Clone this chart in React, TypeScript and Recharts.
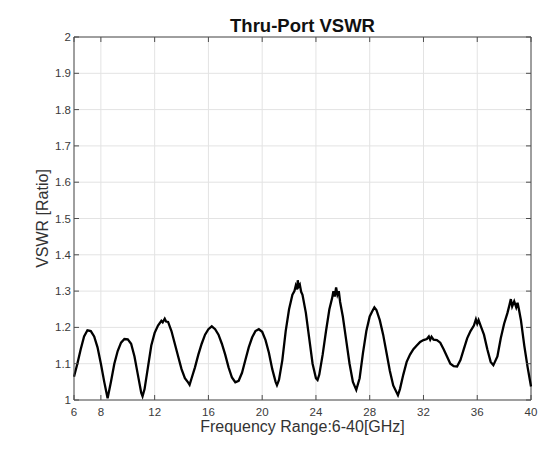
import { LineChart, Line, XAxis, YAxis, CartesianGrid, ReferenceLine } from "recharts"

// frequency in GHz, VSWR
const freq = [
  6.0, 6.25, 6.5, 6.75, 7.0, 7.25, 7.5, 7.75, 8.0, 8.25, 8.5, 8.75, 9.0, 9.25, 9.5, 9.75,
  10.0, 10.25, 10.5, 10.75, 11.0, 11.1, 11.25, 11.5, 11.75, 12.0, 12.25, 12.5, 12.6, 12.75, 12.85, 13.0,
  13.25, 13.5, 13.75, 14.0, 14.25, 14.5, 14.6, 14.7, 14.75, 15.0, 15.25, 15.5, 15.75, 16.0, 16.25, 16.5,
  16.75, 17.0, 17.25, 17.5, 17.75, 18.0, 18.25, 18.5, 18.75, 19.0, 19.25, 19.5, 19.75, 20.0, 20.25, 20.5,
  20.75, 21.0, 21.1, 21.25, 21.5, 21.75, 22.0, 22.25, 22.4, 22.5, 22.6, 22.65, 22.7, 22.8, 22.9, 23.0,
  23.25, 23.5, 23.75, 24.0, 24.12, 24.25, 24.5, 24.75, 25.0, 25.2, 25.3, 25.4, 25.5, 25.6, 25.7, 25.8,
  26.0, 26.25, 26.5, 26.75, 27.0, 27.25, 27.5, 27.75, 28.0, 28.2, 28.35, 28.5, 28.75, 29.0, 29.25, 29.5,
  29.75, 30.1, 30.25, 30.5, 30.75, 31.0, 31.25, 31.5, 31.75, 32.0, 32.25, 32.4, 32.5, 32.6, 32.75, 33.0,
  33.25, 33.5, 33.75, 34.0, 34.25, 34.5, 34.75, 35.0, 35.25, 35.5, 35.75, 35.9, 36.0, 36.1, 36.25, 36.5,
  36.75, 37.0, 37.2, 37.5, 37.75, 38.0, 38.25, 38.4, 38.5, 38.6, 38.75, 38.9, 39.0, 39.1, 39.25, 39.5,
  39.75, 40.0,
]

const vswr = [
  1.064, 1.1, 1.14, 1.175, 1.192, 1.19, 1.175, 1.145, 1.1, 1.05, 1.005, 1.05, 1.1, 1.135, 1.158, 1.168,
  1.167, 1.155, 1.12, 1.07, 1.02, 1.01, 1.03, 1.09, 1.15, 1.185, 1.205, 1.218, 1.214, 1.224, 1.216, 1.215,
  1.19, 1.155, 1.12, 1.085, 1.06, 1.048, 1.042, 1.054, 1.06, 1.09, 1.125, 1.155, 1.18, 1.195, 1.203, 1.195,
  1.18, 1.155, 1.125, 1.09, 1.062, 1.049, 1.053, 1.075, 1.11, 1.145, 1.172, 1.19, 1.195, 1.188, 1.165, 1.13,
  1.085, 1.05, 1.041, 1.055, 1.11, 1.19, 1.25, 1.29, 1.3, 1.315, 1.305, 1.33, 1.312, 1.318, 1.298, 1.29,
  1.24, 1.17, 1.1, 1.06, 1.055, 1.07, 1.125, 1.19, 1.25, 1.28, 1.3, 1.285, 1.31, 1.29, 1.3, 1.27,
  1.23, 1.165, 1.1, 1.05, 1.028, 1.06, 1.13, 1.19, 1.23, 1.245, 1.255, 1.248, 1.22, 1.18, 1.13, 1.08,
  1.04, 1.013, 1.03, 1.07, 1.105, 1.125, 1.14, 1.15, 1.16, 1.165, 1.168, 1.175, 1.166, 1.174, 1.166, 1.165,
  1.158, 1.14, 1.12, 1.1, 1.093, 1.092, 1.11, 1.14, 1.17, 1.19, 1.205, 1.222, 1.21, 1.22, 1.205, 1.18,
  1.14, 1.105, 1.096, 1.12, 1.17, 1.21, 1.24, 1.262, 1.278, 1.258, 1.272, 1.255, 1.268, 1.25, 1.22, 1.15,
  1.09, 1.037,
]

const xTicks = [6, 8, 12, 16, 20, 24, 28, 32, 36, 40]
const yTicks = [1, 1.1, 1.2, 1.3, 1.4, 1.5, 1.6, 1.7, 1.8, 1.9, 2]

const data = freq.map((f, i) => ({ f, v: vswr[i] }))

const W = 540
const H = 450
const TOP = 37
const LEFT = 74
const RIGHT = 531
const BOTTOM = 400
const FRAME = "#4d4d4d"
const FONT = "'Liberation Sans', Arial, sans-serif"

function XTick(props: any) {
  const { x, payload } = props
  return (
    <g>
      <line x1={x} y1={BOTTOM} x2={x} y2={BOTTOM - 5} stroke={FRAME} />
      <line x1={x} y1={TOP} x2={x} y2={TOP + 5} stroke={FRAME} />
      <text x={x} y={BOTTOM + 16} textAnchor="middle" fontSize={11.5} fill="#3a3a3a" fontFamily={FONT}>
        {payload.value}
      </text>
    </g>
  )
}

function YTick(props: any) {
  const { y, payload } = props
  return (
    <g>
      <line x1={LEFT} y1={y} x2={LEFT + 5} y2={y} stroke={FRAME} />
      <line x1={RIGHT} y1={y} x2={RIGHT - 5} y2={y} stroke={FRAME} />
      <text x={LEFT - 3} y={y + 4} textAnchor="end" fontSize={11.5} fill="#3a3a3a" fontFamily={FONT}>
        {String(Number(payload.value.toFixed(1)))}
      </text>
    </g>
  )
}

export default function App() {
  return (
    <div style={{ position: "absolute", left: 0, top: 0, width: W, height: H, background: "#fff" }}>
      <div
        style={{
          position: "absolute",
          top: 15,
          left: LEFT,
          width: RIGHT - LEFT,
          textAlign: "center",
          fontFamily: FONT,
          fontWeight: "bold",
          fontSize: 18.5,
          lineHeight: "21px",
          color: "#111",
        }}
      >
        Thru-Port VSWR
      </div>
      <LineChart
        width={W}
        height={H}
        data={data}
        margin={{ top: TOP, right: W - RIGHT, bottom: 0, left: 0 }}
      >
        <CartesianGrid stroke="#e3e3e3" />
        <XAxis
          dataKey="f"
          type="number"
          domain={[6, 40]}
          ticks={xTicks}
          height={H - BOTTOM}
          axisLine={{ stroke: FRAME }}
          tickLine={false}
          tick={<XTick />}
          interval={0}
          label={{
            value: "Frequency Range:6-40[GHz]",
            position: "insideBottom",
            offset: 18,
            style: { fontSize: 16, fill: "#333", fontFamily: FONT },
          }}
        />
        <YAxis
          type="number"
          domain={[1, 2]}
          ticks={yTicks}
          width={LEFT}
          axisLine={{ stroke: FRAME }}
          tickLine={false}
          tick={<YTick />}
          interval={0}
          label={{
            value: "VSWR [Ratio]",
            angle: -90,
            position: "insideLeft",
            offset: 42,
            style: { fontSize: 16, fill: "#333", fontFamily: FONT, textAnchor: "middle" },
          }}
        />
        <ReferenceLine y={2} stroke={FRAME} />
        <ReferenceLine x={40} stroke={FRAME} />
        <Line
          type="linear"
          dataKey="v"
          stroke="#000"
          strokeWidth={2.3}
          dot={false}
          isAnimationActive={false}
        />
      </LineChart>
    </div>
  )
}
